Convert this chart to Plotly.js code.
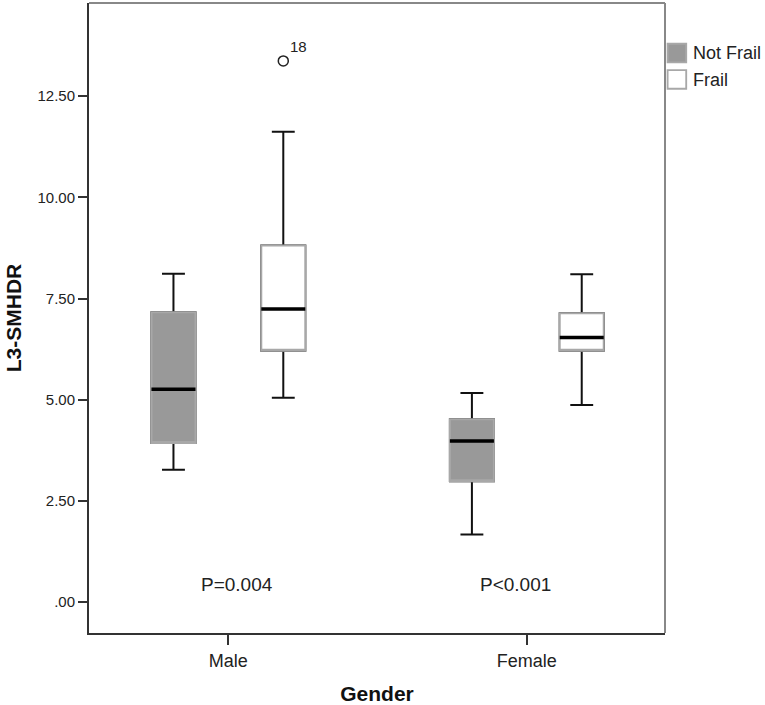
<!DOCTYPE html>
<html>
<head>
<meta charset="utf-8">
<script src="https://cdn.plot.ly/plotly-3.0.1.min.js"></script>
<style>
  html, body { margin: 0; padding: 0; background: #fff; }
  #chart { width: 765px; height: 705px; }
</style>
</head>
<body>
<div id="chart"></div>
<script>
// Gender groups on the x axis
const genders = ['Male', 'Female'];

// Not Frail: five-number summary per gender
const notFrailLower  = [3.27, 1.67];
const notFrailQ1     = [3.93, 2.99];
const notFrailMedian = [5.26, 3.98];
const notFrailQ3     = [7.16, 4.52];
const notFrailUpper  = [8.11, 5.17];

// Frail: five-number summary per gender
const frailLower  = [5.05, 4.87];
const frailQ1     = [6.21, 6.21];
const frailMedian = [7.24, 6.54];
const frailQ3     = [8.81, 7.14];
const frailUpper  = [11.62, 8.10];

// Frail outliers (case numbers)
const frailOutlierGender = ['Male'];
const frailOutlierValue  = [13.37];
const frailOutlierCase   = ['18'];

// p-values per gender
const pLabels = ['P=0.004', 'P<0.001'];

// y tick labels
const yTickVals = [0, 2.5, 5, 7.5, 10, 12.5];
const yTickText = ['.00', '2.50', '5.00', '7.50', '10.00', '12.50'];

// ---- styling / layout constants ----
const FONT = '"Liberation Sans", Arial, sans-serif';
const BOX_W = 0.1475;       // box width in axis units
const OFFSET = 0.184;       // half distance between paired boxes
const series = [
  { name: 'Not Frail', fill: '#999999', shift: -OFFSET,
    lo: notFrailLower, q1: notFrailQ1, med: notFrailMedian, q3: notFrailQ3, hi: notFrailUpper },
  { name: 'Frail', fill: '#ffffff', shift: OFFSET,
    lo: frailLower, q1: frailQ1, med: frailMedian, q3: frailQ3, hi: frailUpper }
];

const idx = g => genders.indexOf(g);

const base = { type: 'box', boxpoints: false, width: BOX_W, hoverinfo: 'skip' };
const traces = [];

// whiskers and caps (black)
series.forEach(s => {
  traces.push(Object.assign({}, base, {
    x: genders.map((g, i) => i + s.shift),
    q1: s.q1, median: s.med, q3: s.q3, lowerfence: s.lo, upperfence: s.hi,
    line: { color: '#111111', width: 2 }, fillcolor: 'rgba(0,0,0,0)',
    whiskerwidth: 0.52, showlegend: false
  }));
});
// box body with grey outline
series.forEach(s => {
  traces.push(Object.assign({}, base, {
    name: s.name,
    x: genders.map((g, i) => i + s.shift),
    q1: s.q1, median: s.q1, q3: s.q3, lowerfence: s.q1, upperfence: s.q3,
    line: { color: '#a8a8a8', width: 2 }, fillcolor: s.fill,
    whiskerwidth: 0, showlegend: true
  }));
});
// thick median line
series.forEach(s => {
  traces.push(Object.assign({}, base, {
    x: genders.map((g, i) => i + s.shift),
    q1: s.med, median: s.med, q3: s.med, lowerfence: s.med, upperfence: s.med,
    line: { color: '#000000', width: 3.5 }, fillcolor: 'rgba(0,0,0,0)',
    whiskerwidth: 0, showlegend: false
  }));
});
// outliers
traces.push({
  type: 'scatter', mode: 'markers',
  x: frailOutlierGender.map(g => idx(g) + OFFSET),
  y: frailOutlierValue,
  marker: { symbol: 'circle-open', size: 10, color: '#222222', line: { width: 1.5 } },
  showlegend: false, hoverinfo: 'skip', cliponaxis: false
});

const annotations = [];
frailOutlierCase.forEach((c, i) => {
  annotations.push({
    x: idx(frailOutlierGender[i]) + OFFSET, y: frailOutlierValue[i],
    xref: 'x', yref: 'y', text: c, showarrow: false,
    xanchor: 'left', yanchor: 'middle', xshift: 5, yshift: 14,
    font: { family: FONT, size: 15, color: '#222222' }
  });
});
const pShift = [9, -11];
pLabels.forEach((t, i) => {
  annotations.push({
    x: i, y: 0.43, xref: 'x', yref: 'y', text: t, showarrow: false,
    xanchor: 'center', yanchor: 'middle', xshift: pShift[i],
    font: { family: FONT, size: 19, color: '#222222' }
  });
});

const layout = {
  width: 765, height: 705,
  margin: { l: 89, r: 100, t: 3, b: 72, autoexpand: false },
  paper_bgcolor: '#ffffff', plot_bgcolor: '#ffffff',
  font: { family: FONT, color: '#222222' },
  boxmode: 'overlay',
  xaxis: {
    range: [-0.467, 1.463],
    tickvals: genders.map((g, i) => i), ticktext: genders,
    ticks: 'outside', ticklen: 10, tickwidth: 2, tickcolor: '#333333',
    showline: true, linecolor: '#333333', linewidth: 2,
    showgrid: false, zeroline: false,
    tickfont: { family: FONT, size: 18, color: '#222222' },
    title: { text: 'Gender', font: { family: FONT, size: 21, color: '#111111', weight: 'bold' }, standoff: 19 }
  },
  yaxis: {
    range: [-0.76, 14.80],
    tickvals: yTickVals, ticktext: yTickText,
    ticks: 'outside', ticklen: 9, tickwidth: 2, tickcolor: '#333333',
    showline: true, linecolor: '#333333', linewidth: 2,
    showgrid: false, zeroline: false,
    tickfont: { family: FONT, size: 15, color: '#222222' },
    title: { text: 'L3-SMHDR', font: { family: FONT, size: 21, color: '#111111', weight: 'bold' }, standoff: 10 }
  },
  legend: {
    x: 0.979, xanchor: 'left', y: 0.951, yanchor: 'top',
    font: { family: FONT, size: 18, color: '#222222' },
    bgcolor: 'rgba(0,0,0,0)', itemclick: false, tracegroupgap: 0
  },
  shapes: [
    { type: 'line', xref: 'paper', yref: 'paper', x0: 0, x1: 1, y0: 1, y1: 1, line: { color: '#888888', width: 2 } },
    { type: 'line', xref: 'paper', yref: 'paper', x0: 1, x1: 1, y0: 0, y1: 1, line: { color: '#888888', width: 2 } }
  ],
  annotations: annotations
};

Plotly.newPlot('chart', traces, layout, { displayModeBar: false, staticPlot: true }).then(gd => {
  // enlarge the legend swatches, keeping their existing placement
  gd.querySelectorAll('.legend .legendpoints path').forEach(p => {
    const t = p.getAttribute('transform') || '';
    p.setAttribute('transform', (t + ' translate(4,1) scale(1.55)').trim());
    p.style.strokeWidth = '1.2px';
  });
});
</script>
</body>
</html>
